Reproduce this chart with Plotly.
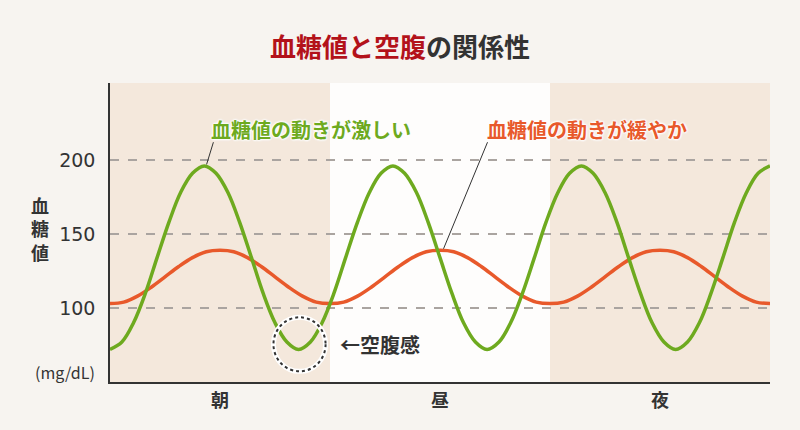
import plotly.graph_objects as go

# time axis: 0-1 = 朝, 1-2 = 昼, 2-3 = 夜
green_x = [0, 0.054, 0.107, 0.161, 0.214, 0.268, 0.321, 0.375, 0.429, 0.482,
           0.536, 0.589, 0.643, 0.696, 0.75, 0.804, 0.857, 0.911, 0.964, 1.018,
           1.071, 1.125, 1.179, 1.232, 1.286, 1.339, 1.393, 1.446, 1.5, 1.554,
           1.607, 1.661, 1.714, 1.768, 1.821, 1.875, 1.929, 1.982, 2.036, 2.089,
           2.143, 2.196, 2.25, 2.304, 2.357, 2.411, 2.464, 2.518, 2.571, 2.625,
           2.679, 2.732, 2.786, 2.839, 2.893, 2.946, 3.0]
green_y = [72, 77, 90, 110, 134, 158, 178, 191, 196, 191,
           178, 158, 134, 110, 90, 77, 72, 77, 90, 110,
           134, 158, 178, 191, 196, 191, 178, 158, 134, 110,
           90, 77, 72, 77, 90, 110, 134, 158, 178, 191,
           196, 191, 178, 158, 134, 110, 90, 77, 72, 77,
           90, 110, 134, 158, 178, 191, 196]

orange_x = [0, 0.0625, 0.125, 0.1875, 0.25, 0.3125, 0.375, 0.4375, 0.5,
            0.5625, 0.625, 0.6875, 0.75, 0.8125, 0.875, 0.9375, 1.0,
            1.0625, 1.125, 1.1875, 1.25, 1.3125, 1.375, 1.4375, 1.5,
            1.5625, 1.625, 1.6875, 1.75, 1.8125, 1.875, 1.9375, 2.0,
            2.0625, 2.125, 2.1875, 2.25, 2.3125, 2.375, 2.4375, 2.5,
            2.5625, 2.625, 2.6875, 2.75, 2.8125, 2.875, 2.9375, 3.0]
orange_y = [103, 104, 108, 114, 121, 128, 134, 138, 139,
            138, 134, 128, 121, 114, 108, 104, 103,
            104, 108, 114, 121, 128, 134, 138, 139,
            138, 134, 128, 121, 114, 108, 104, 103,
            104, 108, 114, 121, 128, 134, 138, 139,
            138, 134, 128, 121, 114, 108, 104, 103]

periods = ['<b>朝</b>', '<b>昼</b>', '<b>夜</b>']
period_pos = [0.5, 1.5, 2.5]
y_ticks = [100, 150, 200]

GREEN = '#6eaa1f'
ORANGE = '#e8592b'
DARK = '#333333'
FONT = 'Noto Sans CJK JP'
GLOW = '0 0 2px #fff, 0 0 2px #fff, 0 0 3px #fff, 0 0 3px #fff, 0 0 3px #fff'

fig = go.Figure()
fig.add_trace(go.Scatter(x=orange_x, y=orange_y, mode='lines',
                         line=dict(color=ORANGE, width=3.5, shape='spline'),
                         hoverinfo='skip'))
fig.add_trace(go.Scatter(x=green_x, y=green_y, mode='lines',
                         line=dict(color=GREEN, width=3.5, shape='spline'),
                         hoverinfo='skip'))

# shaded morning / night bands
for x0, x1 in [(0, 1), (2, 3)]:
    fig.add_shape(type='rect', xref='x', yref='paper', x0=x0, x1=x1, y0=0, y1=1,
                  fillcolor='#f4e8dc', line_width=0, layer='below')

# leader lines for the two labels
fig.add_shape(type='line', x0=0.470, y0=212, x1=0.439, y1=197,
              line=dict(color=DARK, width=1))
fig.add_shape(type='line', x0=1.716, y0=212, x1=1.516, y1=140,
              line=dict(color=DARK, width=1))

# dotted circle around the dip
fig.add_shape(type='circle', x0=0.743, x1=0.980, y0=57.2, y1=93.7,
              line=dict(color='white', width=5))
fig.add_shape(type='circle', x0=0.743, x1=0.980, y0=57.2, y1=93.7,
              line=dict(color=DARK, width=2, dash='dot'))

fig.add_annotation(x=0.913, y=220.7, text='<b>血糖値の動きが激しい</b>', showarrow=False,
                   font=dict(family=FONT, size=20, color=GREEN, shadow=GLOW))
fig.add_annotation(x=2.166, y=220.7, text='<b>血糖値の動きが緩やか</b>', showarrow=False,
                   font=dict(family=FONT, size=20, color=ORANGE, shadow=GLOW))
fig.add_annotation(x=1.229, y=75.4, text='<b>←空腹感</b>', showarrow=False,
                   font=dict(family=FONT, size=20, color=DARK))

# y axis title, stacked vertically
fig.add_annotation(xref='paper', yref='paper', x=-0.106, y=0.514, text='<b>血<br>糖<br>値</b>',
                   showarrow=False, align='center', xanchor='center', yanchor='middle',
                   font=dict(family=FONT, size=18, color=DARK))
fig.add_annotation(xref='paper', yref='paper', x=-0.068, y=0.032, text='(mg/dL)',
                   showarrow=False, xanchor='center', yanchor='middle',
                   font=dict(family=FONT, size=16, color=DARK))

fig.update_layout(
    width=800, height=430,
    margin=dict(l=110, r=30, t=83, b=48),
    paper_bgcolor='#f7f4f0',
    plot_bgcolor='#fefdfc',
    showlegend=False,
    title=dict(text="<b><span style='color:#b3121a'>血糖値と空腹</span>の関係性</b>",
               xref='container', x=0.5, xanchor='center',
               yref='container', y=0.888, yanchor='middle',
               font=dict(family=FONT, size=26, color=DARK)),
    xaxis=dict(range=[0, 3], tickvals=period_pos, ticktext=periods, showgrid=False,
               zeroline=False, showline=True, linecolor=DARK, linewidth=1.5,
               ticks='', ticklabelstandoff=2,
               tickfont=dict(family=FONT, size=18, color=DARK)),
    yaxis=dict(range=[50, 252], tickvals=y_ticks, showgrid=True, gridcolor='#aaa4a0',
               griddash='dash', gridwidth=1.5, zeroline=False, showline=True,
               linecolor=DARK, linewidth=1.5, ticks='', ticklabelstandoff=9,
               tickfont=dict(family='DejaVu Sans', size=19, color=DARK)),
)

fig.write_html('out.html', config={'displayModeBar': False},
               post_script="document.body.style.margin='0';")
